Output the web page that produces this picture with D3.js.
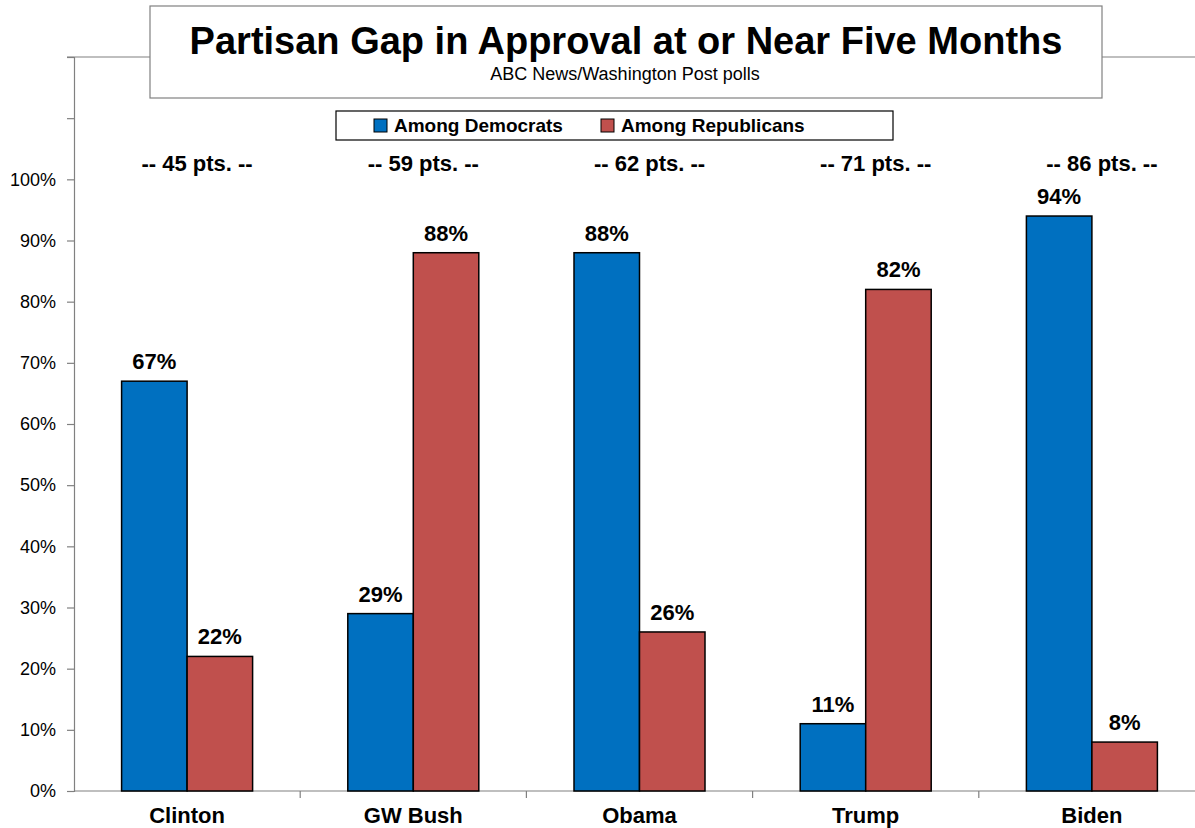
<!DOCTYPE html>
<html>
<head>
<meta charset="utf-8">
<script src="https://cdn.jsdelivr.net/npm/d3@7"></script>
<style>
  body { margin: 0; background: #fff; }
  text { font-family: "Liberation Sans", Arial, sans-serif; }
</style>
</head>
<body>
<script>
// chart data
var presidents = ["Clinton", "GW Bush", "Obama", "Trump", "Biden"];
var democrats = [67, 29, 88, 11, 94];
var republicans = [22, 88, 26, 82, 8];
var gaps = [45, 59, 62, 71, 86];
var series = ["Among Democrats", "Among Republicans"];
var colors = ["#0070C0", "#C0504D"];
var yTicks = [0, 10, 20, 30, 40, 50, 60, 70, 80, 90, 100, 110, 120];

var svg = d3.select("body").append("svg")
    .attr("width", 1195)
    .attr("height", 828);

var x = d3.scaleBand()
    .domain(presidents)
    .range([74, 1205]);

var inner = d3.scaleBand()
    .domain(series)
    .range([0, 131])
    .padding(0);

var y = d3.scaleLinear()
    .domain([0, 120])
    .range([791, 57]);

// top border line of plot area
svg.append("line")
    .attr("x1", 67).attr("x2", 1195)
    .attr("y1", y(120)).attr("y2", y(120))
    .attr("stroke", "#808080").attr("stroke-width", 1.2);

// y axis
var yAxis = svg.append("g")
    .attr("transform", "translate(74,0)")
    .call(d3.axisLeft(y).tickValues(yTicks).tickSize(7)
        .tickFormat(function(d) { return d <= 100 ? d + "%" : ""; }));
yAxis.select(".domain").attr("stroke", "#808080").attr("stroke-width", 1.2);
yAxis.selectAll(".tick line").attr("stroke", "#808080").attr("stroke-width", 1.2);
yAxis.selectAll(".tick text")
    .attr("x", -18)
    .attr("font-size", 18)
    .attr("font-family", "Liberation Sans, Arial, sans-serif")
    .attr("fill", "#000");

// x axis
svg.append("line")
    .attr("x1", 74).attr("x2", 1195)
    .attr("y1", 791).attr("y2", 791)
    .attr("stroke", "#808080").attr("stroke-width", 1.2);
svg.selectAll(".xtick")
    .data(presidents.slice(1))
    .enter().append("line")
    .attr("x1", function(d) { return x(d); })
    .attr("x2", function(d) { return x(d); })
    .attr("y1", 791).attr("y2", 798)
    .attr("stroke", "#808080").attr("stroke-width", 1.2);

svg.selectAll(".xlabel")
    .data(presidents)
    .enter().append("text")
    .attr("x", function(d) { return x(d) + x.bandwidth() / 2; })
    .attr("y", 823)
    .attr("text-anchor", "middle")
    .attr("font-weight", "bold")
    .attr("font-size", 22)
    .text(function(d) { return d; });

// bars
var rows = presidents.map(function(p, i) {
    return { name: p, values: [democrats[i], republicans[i]], gap: gaps[i] };
});

var groups = svg.selectAll(".group")
    .data(rows)
    .enter().append("g")
    .attr("transform", function(d) {
        return "translate(" + (x(d.name) + (x.bandwidth() - 131) / 2) + ",0)";
    });

groups.selectAll("rect")
    .data(function(d) { return d.values; })
    .enter().append("rect")
    .attr("x", function(d, i) { return inner(series[i]); })
    .attr("y", function(d) { return y(d); })
    .attr("width", inner.bandwidth())
    .attr("height", function(d) { return 791 - y(d); })
    .attr("fill", function(d, i) { return colors[i]; })
    .attr("stroke", "#000")
    .attr("stroke-width", 1.5);

groups.selectAll(".val")
    .data(function(d) { return d.values; })
    .enter().append("text")
    .attr("x", function(d, i) { return inner(series[i]) + inner.bandwidth() / 2; })
    .attr("y", function(d) { return y(d) - 12; })
    .attr("text-anchor", "middle")
    .attr("font-family", "Lato, 'Open Sans', sans-serif")
    .attr("font-weight", "bold")
    .attr("font-size", 22)
    .text(function(d) { return d + "%"; });

// gap labels
svg.selectAll(".gap")
    .data(rows)
    .enter().append("text")
    .attr("x", function(d) { return x(d.name) + x.bandwidth() / 2 + 10; })
    .attr("y", 171)
    .attr("text-anchor", "middle")
    .attr("font-family", "Lato, 'Open Sans', sans-serif")
    .attr("font-weight", "bold")
    .attr("font-size", 22)
    .text(function(d) { return "-- " + d.gap + " pts. --"; });

// title box
svg.append("rect")
    .attr("x", 150).attr("y", 6)
    .attr("width", 952).attr("height", 92)
    .attr("fill", "#fff")
    .attr("stroke", "#808080").attr("stroke-width", 1.2);
svg.append("text")
    .attr("x", 626).attr("y", 54)
    .attr("text-anchor", "middle")
    .attr("font-weight", "bold")
    .attr("font-size", 38)
    .text("Partisan Gap in Approval at or Near Five Months");
svg.append("text")
    .attr("x", 625).attr("y", 80)
    .attr("text-anchor", "middle")
    .attr("font-size", 18)
    .text("ABC News/Washington Post polls");

// legend
var legend = svg.append("g");
legend.append("rect")
    .attr("x", 336).attr("y", 111)
    .attr("width", 557).attr("height", 29)
    .attr("fill", "#fff")
    .attr("stroke", "#000").attr("stroke-width", 1.2);
var legendX = [374, 601];
series.forEach(function(s, i) {
    legend.append("rect")
        .attr("x", legendX[i]).attr("y", 119)
        .attr("width", 13).attr("height", 13)
        .attr("fill", colors[i])
        .attr("stroke", "#000").attr("stroke-width", 1);
    legend.append("text")
        .attr("x", legendX[i] + 20).attr("y", 132)
        .attr("font-weight", "bold")
        .attr("font-size", 19)
        .text(s);
});
</script>
</body>
</html>
